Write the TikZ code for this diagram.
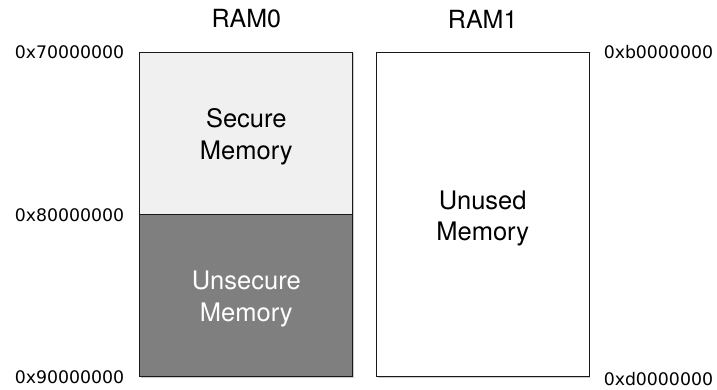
\documentclass[tikz,border=0pt]{standalone}
\usepackage{fontspec}
\setmainfont{TeX Gyre Heros}
\newfontfamily\hexfont{DejaVu Sans}
\usetikzlibrary{shadows}
\definecolor{securefill}{HTML}{F0F0F0}
\definecolor{unsecurefill}{HTML}{7F7F7F}
\tikzset{
  membox/.style={draw=black!90, line width=1pt, inner sep=0pt,
    minimum width=212.7pt,
    drop shadow={shadow xshift=1.2pt, shadow yshift=-1.2pt, opacity=0.35, fill=black!60}},
  boxtext/.style={align=center, inner sep=0pt, font=\fontsize{25.5}{31.5}\selectfont},
  title/.style={font=\fontsize{25}{30}\selectfont, inner sep=0pt},
  addrleft/.style={font=\hexfont\fontsize{17.3}{20}\selectfont, anchor=east, inner sep=0pt},
  addrright/.style={font=\hexfont\fontsize{17.3}{20}\selectfont, anchor=west, inner sep=0pt}
}
\begin{document}
\begin{tikzpicture}[x=1pt, y=-1pt]
  \useasboundingbox (0,0) rectangle (717,390);

  % RAM0: secure and unsecure regions
  \node[membox, fill=securefill, minimum height=162pt] (secure) at (246.3,133.3) {};
  \node[membox, fill=unsecurefill, minimum height=162.4pt] (unsecure) at (246.3,295.5) {};

  % RAM1: unused region
  \node[membox, fill=white, minimum height=324.4pt] (unused) at (482.7,214.5) {};

  % region captions
  \node[boxtext] (securetext) at ([yshift=-3.5pt]secure.center) {Secure\\Memory};
  \node[boxtext, text=white] (unsecuretext) at ([yshift=-3.5pt]unsecure.center) {Unsecure\\Memory};
  \node[boxtext] (unusedtext) at ([yshift=-4pt]unused.center) {Unused\\Memory};

  % bank titles
  \node[title] (ram0) at (246.3,19) {RAM0};
  \node[title] (ram1) at (482.7,19) {RAM1};

  % address labels
  \node[addrleft] (a70) at ([xshift=-15pt]secure.north west) {0x70000000};
  \node[addrleft] (a80) at ([xshift=-15pt]secure.south west) {0x80000000};
  \node[addrleft] (a90) at ([xshift=-15pt]unsecure.south west) {0x90000000};
  \node[addrright] (ab0) at ([xshift=14pt]unused.north east) {0xb0000000};
  \node[addrright] (ad0) at ([xshift=14pt,yshift=-2pt]unused.south east) {0xd0000000};
\end{tikzpicture}
\end{document}
